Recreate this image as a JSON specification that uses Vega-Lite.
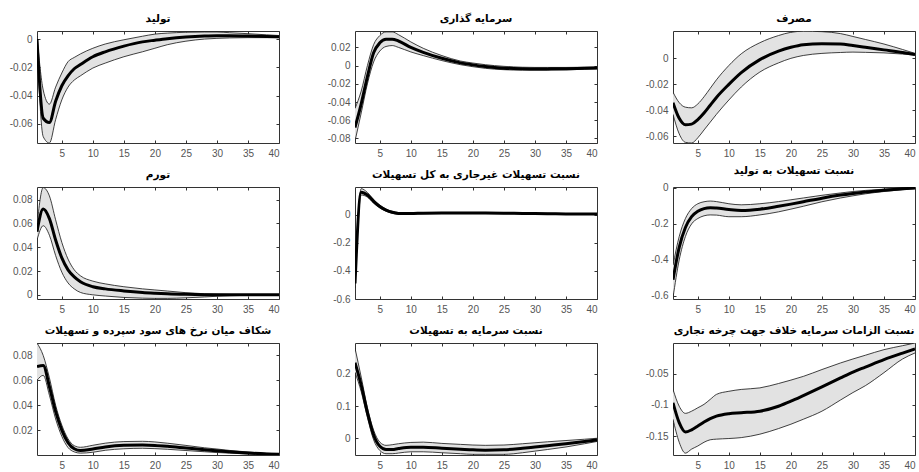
{
"$schema": "https://vega.github.io/schema/vega-lite/v6.json",
"background": "white",
"padding": {"left": 8, "top": 13, "right": 0, "bottom": 0},
"data": {"values": [
{"p":1,"x":1,"m":0.0,"lo":-0.003,"hi":0.002},
{"p":1,"x":2,"m":-0.056,"lo":-0.069,"hi":-0.036},
{"p":1,"x":3,"m":-0.059,"lo":-0.0735,"hi":-0.046},
{"p":1,"x":4,"m":-0.044,"lo":-0.057,"hi":-0.034},
{"p":1,"x":5,"m":-0.033,"lo":-0.043,"hi":-0.024},
{"p":1,"x":6,"m":-0.026,"lo":-0.034,"hi":-0.016},
{"p":1,"x":7,"m":-0.021,"lo":-0.029,"hi":-0.013},
{"p":1,"x":8,"m":-0.018,"lo":-0.026,"hi":-0.0105},
{"p":1,"x":10,"m":-0.0125,"lo":-0.0205,"hi":-0.0065},
{"p":1,"x":12,"m":-0.009,"lo":-0.017,"hi":-0.0035},
{"p":1,"x":15,"m":-0.005,"lo":-0.0125,"hi":-0.0005},
{"p":1,"x":18,"m":-0.002,"lo":-0.009,"hi":0.002},
{"p":1,"x":20,"m":-0.0008,"lo":-0.0065,"hi":0.0035},
{"p":1,"x":22,"m":0.0003,"lo":-0.004,"hi":0.0042},
{"p":1,"x":25,"m":0.0015,"lo":-0.0015,"hi":0.0048},
{"p":1,"x":28,"m":0.0022,"lo":0.0,"hi":0.005},
{"p":1,"x":30,"m":0.0024,"lo":0.0005,"hi":0.005},
{"p":1,"x":32,"m":0.0024,"lo":0.0008,"hi":0.0045},
{"p":1,"x":35,"m":0.0022,"lo":0.001,"hi":0.0038},
{"p":1,"x":38,"m":0.0018,"lo":0.001,"hi":0.003},
{"p":1,"x":40,"m":0.0016,"lo":0.001,"hi":0.0025},
{"p":2,"x":1,"m":-0.068,"lo":-0.083,"hi":-0.047},
{"p":2,"x":2,"m":-0.042,"lo":-0.052,"hi":-0.028},
{"p":2,"x":3,"m":-0.012,"lo":-0.02,"hi":0.0},
{"p":2,"x":4,"m":0.014,"lo":0.004,"hi":0.023},
{"p":2,"x":5,"m":0.025,"lo":0.016,"hi":0.033},
{"p":2,"x":6,"m":0.029,"lo":0.021,"hi":0.037},
{"p":2,"x":7,"m":0.029,"lo":0.022,"hi":0.037},
{"p":2,"x":8,"m":0.027,"lo":0.02,"hi":0.034},
{"p":2,"x":10,"m":0.02,"lo":0.015,"hi":0.026},
{"p":2,"x":12,"m":0.0145,"lo":0.011,"hi":0.019},
{"p":2,"x":15,"m":0.008,"lo":0.0055,"hi":0.011},
{"p":2,"x":18,"m":0.003,"lo":0.001,"hi":0.005},
{"p":2,"x":20,"m":0.0008,"lo":-0.0012,"hi":0.0028},
{"p":2,"x":22,"m":-0.001,"lo":-0.003,"hi":0.001},
{"p":2,"x":25,"m":-0.0028,"lo":-0.0045,"hi":-0.0008},
{"p":2,"x":28,"m":-0.0035,"lo":-0.005,"hi":-0.0018},
{"p":2,"x":30,"m":-0.0037,"lo":-0.005,"hi":-0.002},
{"p":2,"x":32,"m":-0.0036,"lo":-0.005,"hi":-0.002},
{"p":2,"x":35,"m":-0.0034,"lo":-0.0047,"hi":-0.002},
{"p":2,"x":38,"m":-0.003,"lo":-0.004,"hi":-0.0018},
{"p":2,"x":40,"m":-0.0025,"lo":-0.0035,"hi":-0.0015},
{"p":3,"x":1,"m":-0.034,"lo":-0.043,"hi":-0.026},
{"p":3,"x":2,"m":-0.046,"lo":-0.058,"hi":-0.034},
{"p":3,"x":3,"m":-0.051,"lo":-0.0645,"hi":-0.0375},
{"p":3,"x":4,"m":-0.0505,"lo":-0.065,"hi":-0.038},
{"p":3,"x":5,"m":-0.047,"lo":-0.061,"hi":-0.035},
{"p":3,"x":6,"m":-0.042,"lo":-0.055,"hi":-0.0295},
{"p":3,"x":7,"m":-0.036,"lo":-0.049,"hi":-0.023},
{"p":3,"x":8,"m":-0.03,"lo":-0.043,"hi":-0.0165},
{"p":3,"x":10,"m":-0.02,"lo":-0.032,"hi":-0.0055},
{"p":3,"x":12,"m":-0.011,"lo":-0.022,"hi":0.0035},
{"p":3,"x":15,"m":-0.001,"lo":-0.0105,"hi":0.012},
{"p":3,"x":18,"m":0.0055,"lo":-0.0035,"hi":0.0175},
{"p":3,"x":20,"m":0.0085,"lo":0.0,"hi":0.02},
{"p":3,"x":22,"m":0.0105,"lo":0.0022,"hi":0.0208},
{"p":3,"x":25,"m":0.0113,"lo":0.0038,"hi":0.0205},
{"p":3,"x":28,"m":0.011,"lo":0.0045,"hi":0.019},
{"p":3,"x":30,"m":0.0098,"lo":0.0048,"hi":0.0168},
{"p":3,"x":32,"m":0.0085,"lo":0.0046,"hi":0.0145},
{"p":3,"x":35,"m":0.0065,"lo":0.0042,"hi":0.011},
{"p":3,"x":38,"m":0.0045,"lo":0.0033,"hi":0.0068},
{"p":3,"x":40,"m":0.003,"lo":0.0025,"hi":0.0038},
{"p":4,"x":1,"m":0.053,"lo":0.046,"hi":0.058},
{"p":4,"x":2,"m":0.072,"lo":0.058,"hi":0.09},
{"p":4,"x":3,"m":0.064,"lo":0.05,"hi":0.083},
{"p":4,"x":4,"m":0.046,"lo":0.033,"hi":0.063},
{"p":4,"x":5,"m":0.031,"lo":0.019,"hi":0.044},
{"p":4,"x":6,"m":0.021,"lo":0.01,"hi":0.03},
{"p":4,"x":7,"m":0.015,"lo":0.005,"hi":0.021},
{"p":4,"x":8,"m":0.011,"lo":0.002,"hi":0.016},
{"p":4,"x":10,"m":0.0068,"lo":0.0,"hi":0.0115},
{"p":4,"x":12,"m":0.005,"lo":-0.001,"hi":0.0092},
{"p":4,"x":15,"m":0.0033,"lo":-0.0022,"hi":0.0068},
{"p":4,"x":18,"m":0.002,"lo":-0.0028,"hi":0.005},
{"p":4,"x":20,"m":0.0014,"lo":-0.003,"hi":0.0041},
{"p":4,"x":22,"m":0.0009,"lo":-0.003,"hi":0.0032},
{"p":4,"x":25,"m":0.0004,"lo":-0.0025,"hi":0.0018},
{"p":4,"x":28,"m":0.0001,"lo":-0.0018,"hi":0.0009},
{"p":4,"x":30,"m":0.0,"lo":-0.0012,"hi":0.0005},
{"p":4,"x":32,"m":0.0,"lo":-0.0008,"hi":0.0003},
{"p":4,"x":35,"m":0.0,"lo":-0.0004,"hi":0.0002},
{"p":4,"x":38,"m":0.0,"lo":-0.0002,"hi":0.0001},
{"p":4,"x":40,"m":0.0,"lo":-0.0001,"hi":0.0001},
{"p":5,"x":1,"m":-0.49,"lo":-0.52,"hi":-0.47},
{"p":5,"x":2,"m":0.16,"lo":0.14,"hi":0.185},
{"p":5,"x":3,"m":0.14,"lo":0.125,"hi":0.158},
{"p":5,"x":4,"m":0.095,"lo":0.082,"hi":0.108},
{"p":5,"x":5,"m":0.058,"lo":0.048,"hi":0.068},
{"p":5,"x":6,"m":0.033,"lo":0.025,"hi":0.04},
{"p":5,"x":7,"m":0.017,"lo":0.01,"hi":0.024},
{"p":5,"x":8,"m":0.009,"lo":0.003,"hi":0.015},
{"p":5,"x":10,"m":0.008,"lo":0.003,"hi":0.012},
{"p":5,"x":12,"m":0.011,"lo":0.007,"hi":0.015},
{"p":5,"x":15,"m":0.012,"lo":0.008,"hi":0.016},
{"p":5,"x":18,"m":0.012,"lo":0.008,"hi":0.016},
{"p":5,"x":20,"m":0.012,"lo":0.008,"hi":0.016},
{"p":5,"x":22,"m":0.012,"lo":0.008,"hi":0.016},
{"p":5,"x":25,"m":0.011,"lo":0.007,"hi":0.015},
{"p":5,"x":28,"m":0.009,"lo":0.006,"hi":0.012},
{"p":5,"x":30,"m":0.008,"lo":0.005,"hi":0.011},
{"p":5,"x":32,"m":0.007,"lo":0.004,"hi":0.01},
{"p":5,"x":35,"m":0.005,"lo":0.002,"hi":0.008},
{"p":5,"x":38,"m":0.004,"lo":0.002,"hi":0.007},
{"p":5,"x":40,"m":0.004,"lo":0.002,"hi":0.006},
{"p":6,"x":1,"m":-0.51,"lo":-0.61,"hi":-0.43},
{"p":6,"x":2,"m":-0.33,"lo":-0.4,"hi":-0.27},
{"p":6,"x":3,"m":-0.22,"lo":-0.27,"hi":-0.17},
{"p":6,"x":4,"m":-0.16,"lo":-0.2,"hi":-0.115},
{"p":6,"x":5,"m":-0.13,"lo":-0.17,"hi":-0.088},
{"p":6,"x":6,"m":-0.115,"lo":-0.155,"hi":-0.077},
{"p":6,"x":7,"m":-0.11,"lo":-0.15,"hi":-0.073},
{"p":6,"x":8,"m":-0.112,"lo":-0.151,"hi":-0.076},
{"p":6,"x":10,"m":-0.12,"lo":-0.16,"hi":-0.088},
{"p":6,"x":12,"m":-0.125,"lo":-0.16,"hi":-0.094},
{"p":6,"x":15,"m":-0.118,"lo":-0.15,"hi":-0.088},
{"p":6,"x":18,"m":-0.102,"lo":-0.133,"hi":-0.076},
{"p":6,"x":20,"m":-0.09,"lo":-0.118,"hi":-0.066},
{"p":6,"x":22,"m":-0.077,"lo":-0.102,"hi":-0.056},
{"p":6,"x":25,"m":-0.057,"lo":-0.077,"hi":-0.041},
{"p":6,"x":28,"m":-0.04,"lo":-0.056,"hi":-0.028},
{"p":6,"x":30,"m":-0.031,"lo":-0.044,"hi":-0.02},
{"p":6,"x":32,"m":-0.023,"lo":-0.033,"hi":-0.014},
{"p":6,"x":35,"m":-0.013,"lo":-0.02,"hi":-0.007},
{"p":6,"x":38,"m":-0.005,"lo":-0.01,"hi":-0.001},
{"p":6,"x":40,"m":-0.001,"lo":-0.004,"hi":0.003},
{"p":7,"x":1,"m":0.071,"lo":0.06,"hi":0.09},
{"p":7,"x":2,"m":0.072,"lo":0.064,"hi":0.08},
{"p":7,"x":3,"m":0.055,"lo":0.048,"hi":0.062},
{"p":7,"x":4,"m":0.035,"lo":0.029,"hi":0.04},
{"p":7,"x":5,"m":0.02,"lo":0.015,"hi":0.024},
{"p":7,"x":6,"m":0.01,"lo":0.006,"hi":0.013},
{"p":7,"x":7,"m":0.005,"lo":0.0025,"hi":0.0075},
{"p":7,"x":8,"m":0.0036,"lo":0.0015,"hi":0.0062},
{"p":7,"x":10,"m":0.0048,"lo":0.0022,"hi":0.0078},
{"p":7,"x":12,"m":0.0065,"lo":0.0038,"hi":0.0095},
{"p":7,"x":15,"m":0.0078,"lo":0.005,"hi":0.0108},
{"p":7,"x":18,"m":0.008,"lo":0.0054,"hi":0.011},
{"p":7,"x":20,"m":0.0077,"lo":0.0051,"hi":0.0105},
{"p":7,"x":22,"m":0.007,"lo":0.0046,"hi":0.0095},
{"p":7,"x":25,"m":0.0056,"lo":0.0036,"hi":0.0077},
{"p":7,"x":28,"m":0.0042,"lo":0.0026,"hi":0.0058},
{"p":7,"x":30,"m":0.0034,"lo":0.002,"hi":0.0048},
{"p":7,"x":32,"m":0.0026,"lo":0.0015,"hi":0.0037},
{"p":7,"x":35,"m":0.0016,"lo":0.0008,"hi":0.0024},
{"p":7,"x":38,"m":0.0009,"lo":0.0004,"hi":0.0014},
{"p":7,"x":40,"m":0.0006,"lo":0.0002,"hi":0.0009},
{"p":8,"x":1,"m":0.235,"lo":0.205,"hi":0.28},
{"p":8,"x":2,"m":0.165,"lo":0.145,"hi":0.19},
{"p":8,"x":3,"m":0.08,"lo":0.065,"hi":0.095},
{"p":8,"x":4,"m":0.01,"lo":-0.005,"hi":0.025},
{"p":8,"x":5,"m":-0.025,"lo":-0.038,"hi":-0.012},
{"p":8,"x":6,"m":-0.035,"lo":-0.048,"hi":-0.022},
{"p":8,"x":7,"m":-0.035,"lo":-0.048,"hi":-0.02},
{"p":8,"x":8,"m":-0.032,"lo":-0.046,"hi":-0.017},
{"p":8,"x":10,"m":-0.028,"lo":-0.042,"hi":-0.013},
{"p":8,"x":12,"m":-0.028,"lo":-0.042,"hi":-0.012},
{"p":8,"x":15,"m":-0.031,"lo":-0.045,"hi":-0.016},
{"p":8,"x":18,"m":-0.034,"lo":-0.048,"hi":-0.019},
{"p":8,"x":20,"m":-0.036,"lo":-0.05,"hi":-0.021},
{"p":8,"x":22,"m":-0.037,"lo":-0.05,"hi":-0.022},
{"p":8,"x":25,"m":-0.036,"lo":-0.05,"hi":-0.021},
{"p":8,"x":28,"m":-0.031,"lo":-0.045,"hi":-0.017},
{"p":8,"x":30,"m":-0.027,"lo":-0.04,"hi":-0.014},
{"p":8,"x":32,"m":-0.023,"lo":-0.035,"hi":-0.011},
{"p":8,"x":35,"m":-0.017,"lo":-0.027,"hi":-0.007},
{"p":8,"x":38,"m":-0.01,"lo":-0.017,"hi":-0.003},
{"p":8,"x":40,"m":-0.005,"lo":-0.01,"hi":0.0},
{"p":9,"x":1,"m":-0.0965,"lo":-0.123,"hi":-0.075},
{"p":9,"x":2,"m":-0.1285,"lo":-0.16,"hi":-0.102},
{"p":9,"x":3,"m":-0.1435,"lo":-0.1775,"hi":-0.1135},
{"p":9,"x":4,"m":-0.14,"lo":-0.171,"hi":-0.11},
{"p":9,"x":5,"m":-0.134,"lo":-0.166,"hi":-0.1045},
{"p":9,"x":6,"m":-0.1275,"lo":-0.16,"hi":-0.099},
{"p":9,"x":7,"m":-0.122,"lo":-0.156,"hi":-0.091},
{"p":9,"x":8,"m":-0.118,"lo":-0.155,"hi":-0.083},
{"p":9,"x":10,"m":-0.114,"lo":-0.154,"hi":-0.078},
{"p":9,"x":12,"m":-0.1125,"lo":-0.1525,"hi":-0.075},
{"p":9,"x":15,"m":-0.11,"lo":-0.147,"hi":-0.0725},
{"p":9,"x":18,"m":-0.102,"lo":-0.138,"hi":-0.0655},
{"p":9,"x":20,"m":-0.094,"lo":-0.131,"hi":-0.06},
{"p":9,"x":22,"m":-0.085,"lo":-0.123,"hi":-0.054},
{"p":9,"x":25,"m":-0.071,"lo":-0.11,"hi":-0.043},
{"p":9,"x":28,"m":-0.0564,"lo":-0.092,"hi":-0.0324},
{"p":9,"x":30,"m":-0.047,"lo":-0.08,"hi":-0.026},
{"p":9,"x":32,"m":-0.039,"lo":-0.069,"hi":-0.02},
{"p":9,"x":35,"m":-0.027,"lo":-0.048,"hi":-0.011},
{"p":9,"x":38,"m":-0.0166,"lo":-0.026,"hi":-0.0046},
{"p":9,"x":40,"m":-0.01,"lo":-0.0163,"hi":-0.0003}
]},
"columns": 3,
"bounds": "flush",
"spacing": {"row": 44, "column": 76},
"concat": [
{"title": "تولید", "width": 242, "height": 112,
 "transform": [{"filter": "datum.p == 1"}],
 "layer": [
  {"mark": {"type": "area", "color": "#e2e2e2", "interpolate": "monotone", "clip": true},
   "encoding": {"x": {"field": "x", "type": "quantitative", "scale": {"domain": [1, 40], "nice": false}, "axis": {"values": [5,10,15,20,25,30,35,40], "title": null}},
    "y": {"field": "lo", "type": "quantitative", "scale": {"domain": [-0.0735, 0.0057], "nice": false, "zero": false}, "axis": {"values": [-0.06,-0.04,-0.02,0], "title": null}},
    "y2": {"field": "hi"}}},
  {"mark": {"type": "line", "color": "#111", "strokeWidth": 0.8, "interpolate": "monotone", "clip": true},
   "encoding": {"x": {"field": "x", "type": "quantitative", "axis": {"orient": "top", "labels": false, "values": [5,10,15,20,25,30,35,40], "title": null}},
    "y": {"field": "hi", "type": "quantitative", "axis": {"orient": "right", "labels": false, "values": [-0.06,-0.04,-0.02,0], "title": null}}}},
  {"mark": {"type": "line", "color": "#111", "strokeWidth": 0.8, "interpolate": "monotone", "clip": true},
   "encoding": {"x": {"field": "x", "type": "quantitative", "axis": null}, "y": {"field": "lo", "type": "quantitative", "axis": null}}},
  {"mark": {"type": "line", "color": "#000", "strokeWidth": 3, "interpolate": "monotone", "clip": true},
   "encoding": {"x": {"field": "x", "type": "quantitative", "axis": null}, "y": {"field": "m", "type": "quantitative", "axis": null}}}
 ],
 "resolve": {"axis": {"x": "independent", "y": "independent"}}},
{"title": "سرمایه گذاری", "width": 242, "height": 112,
 "transform": [{"filter": "datum.p == 2"}],
 "layer": [
  {"mark": {"type": "area", "color": "#e2e2e2", "interpolate": "monotone", "clip": true},
   "encoding": {"x": {"field": "x", "type": "quantitative", "scale": {"domain": [1, 40], "nice": false}, "axis": {"values": [5,10,15,20,25,30,35,40], "title": null}},
    "y": {"field": "lo", "type": "quantitative", "scale": {"domain": [-0.085, 0.038], "nice": false, "zero": false}, "axis": {"values": [-0.08,-0.06,-0.04,-0.02,0,0.02], "title": null}},
    "y2": {"field": "hi"}}},
  {"mark": {"type": "line", "color": "#111", "strokeWidth": 0.8, "interpolate": "monotone", "clip": true},
   "encoding": {"x": {"field": "x", "type": "quantitative", "axis": {"orient": "top", "labels": false, "values": [5,10,15,20,25,30,35,40], "title": null}},
    "y": {"field": "hi", "type": "quantitative", "axis": {"orient": "right", "labels": false, "values": [-0.08,-0.06,-0.04,-0.02,0,0.02], "title": null}}}},
  {"mark": {"type": "line", "color": "#111", "strokeWidth": 0.8, "interpolate": "monotone", "clip": true},
   "encoding": {"x": {"field": "x", "type": "quantitative", "axis": null}, "y": {"field": "lo", "type": "quantitative", "axis": null}}},
  {"mark": {"type": "line", "color": "#000", "strokeWidth": 3, "interpolate": "monotone", "clip": true},
   "encoding": {"x": {"field": "x", "type": "quantitative", "axis": null}, "y": {"field": "m", "type": "quantitative", "axis": null}}}
 ],
 "resolve": {"axis": {"x": "independent", "y": "independent"}}},
{"title": "مصرف", "width": 242, "height": 112,
 "transform": [{"filter": "datum.p == 3"}],
 "layer": [
  {"mark": {"type": "area", "color": "#e2e2e2", "interpolate": "monotone", "clip": true},
   "encoding": {"x": {"field": "x", "type": "quantitative", "scale": {"domain": [1, 40], "nice": false}, "axis": {"values": [5,10,15,20,25,30,35,40], "title": null}},
    "y": {"field": "lo", "type": "quantitative", "scale": {"domain": [-0.065, 0.021], "nice": false, "zero": false}, "axis": {"values": [-0.06,-0.04,-0.02,0], "title": null}},
    "y2": {"field": "hi"}}},
  {"mark": {"type": "line", "color": "#111", "strokeWidth": 0.8, "interpolate": "monotone", "clip": true},
   "encoding": {"x": {"field": "x", "type": "quantitative", "axis": {"orient": "top", "labels": false, "values": [5,10,15,20,25,30,35,40], "title": null}},
    "y": {"field": "hi", "type": "quantitative", "axis": {"orient": "right", "labels": false, "values": [-0.06,-0.04,-0.02,0], "title": null}}}},
  {"mark": {"type": "line", "color": "#111", "strokeWidth": 0.8, "interpolate": "monotone", "clip": true},
   "encoding": {"x": {"field": "x", "type": "quantitative", "axis": null}, "y": {"field": "lo", "type": "quantitative", "axis": null}}},
  {"mark": {"type": "line", "color": "#000", "strokeWidth": 3, "interpolate": "monotone", "clip": true},
   "encoding": {"x": {"field": "x", "type": "quantitative", "axis": null}, "y": {"field": "m", "type": "quantitative", "axis": null}}}
 ],
 "resolve": {"axis": {"x": "independent", "y": "independent"}}},
{"title": "تورم", "width": 242, "height": 112,
 "transform": [{"filter": "datum.p == 4"}],
 "layer": [
  {"mark": {"type": "area", "color": "#e2e2e2", "interpolate": "monotone", "clip": true},
   "encoding": {"x": {"field": "x", "type": "quantitative", "scale": {"domain": [1, 40], "nice": false}, "axis": {"values": [5,10,15,20,25,30,35,40], "title": null}},
    "y": {"field": "lo", "type": "quantitative", "scale": {"domain": [-0.0035, 0.0905], "nice": false, "zero": false}, "axis": {"values": [0,0.02,0.04,0.06,0.08], "title": null}},
    "y2": {"field": "hi"}}},
  {"mark": {"type": "line", "color": "#111", "strokeWidth": 0.8, "interpolate": "monotone", "clip": true},
   "encoding": {"x": {"field": "x", "type": "quantitative", "axis": {"orient": "top", "labels": false, "values": [5,10,15,20,25,30,35,40], "title": null}},
    "y": {"field": "hi", "type": "quantitative", "axis": {"orient": "right", "labels": false, "values": [0,0.02,0.04,0.06,0.08], "title": null}}}},
  {"mark": {"type": "line", "color": "#111", "strokeWidth": 0.8, "interpolate": "monotone", "clip": true},
   "encoding": {"x": {"field": "x", "type": "quantitative", "axis": null}, "y": {"field": "lo", "type": "quantitative", "axis": null}}},
  {"mark": {"type": "line", "color": "#000", "strokeWidth": 3, "interpolate": "monotone", "clip": true},
   "encoding": {"x": {"field": "x", "type": "quantitative", "axis": null}, "y": {"field": "m", "type": "quantitative", "axis": null}}}
 ],
 "resolve": {"axis": {"x": "independent", "y": "independent"}}},
{"title": "نسبت تسهیلات غیرجاری به کل تسهیلات", "width": 242, "height": 112,
 "transform": [{"filter": "datum.p == 5"}],
 "layer": [
  {"mark": {"type": "area", "color": "#e2e2e2", "interpolate": "monotone", "clip": true},
   "encoding": {"x": {"field": "x", "type": "quantitative", "scale": {"domain": [1, 40], "nice": false}, "axis": {"values": [5,10,15,20,25,30,35,40], "title": null}},
    "y": {"field": "lo", "type": "quantitative", "scale": {"domain": [-0.6, 0.197], "nice": false, "zero": false}, "axis": {"values": [-0.6,-0.4,-0.2,0], "title": null}},
    "y2": {"field": "hi"}}},
  {"mark": {"type": "line", "color": "#111", "strokeWidth": 0.8, "interpolate": "monotone", "clip": true},
   "encoding": {"x": {"field": "x", "type": "quantitative", "axis": {"orient": "top", "labels": false, "values": [5,10,15,20,25,30,35,40], "title": null}},
    "y": {"field": "hi", "type": "quantitative", "axis": {"orient": "right", "labels": false, "values": [-0.6,-0.4,-0.2,0], "title": null}}}},
  {"mark": {"type": "line", "color": "#111", "strokeWidth": 0.8, "interpolate": "monotone", "clip": true},
   "encoding": {"x": {"field": "x", "type": "quantitative", "axis": null}, "y": {"field": "lo", "type": "quantitative", "axis": null}}},
  {"mark": {"type": "line", "color": "#000", "strokeWidth": 3, "interpolate": "monotone", "clip": true},
   "encoding": {"x": {"field": "x", "type": "quantitative", "axis": null}, "y": {"field": "m", "type": "quantitative", "axis": null}}}
 ],
 "resolve": {"axis": {"x": "independent", "y": "independent"}}},
{"title": "نسبت تسهیلات به تولید", "width": 242, "height": 112,
 "transform": [{"filter": "datum.p == 6"}],
 "layer": [
  {"mark": {"type": "area", "color": "#e2e2e2", "interpolate": "monotone", "clip": true},
   "encoding": {"x": {"field": "x", "type": "quantitative", "scale": {"domain": [1, 40], "nice": false}, "axis": {"values": [5,10,15,20,25,30,35,40], "title": null}},
    "y": {"field": "lo", "type": "quantitative", "scale": {"domain": [-0.617, 0.005], "nice": false, "zero": false}, "axis": {"values": [-0.6,-0.4,-0.2,0], "title": null}},
    "y2": {"field": "hi"}}},
  {"mark": {"type": "line", "color": "#111", "strokeWidth": 0.8, "interpolate": "monotone", "clip": true},
   "encoding": {"x": {"field": "x", "type": "quantitative", "axis": {"orient": "top", "labels": false, "values": [5,10,15,20,25,30,35,40], "title": null}},
    "y": {"field": "hi", "type": "quantitative", "axis": {"orient": "right", "labels": false, "values": [-0.6,-0.4,-0.2,0], "title": null}}}},
  {"mark": {"type": "line", "color": "#111", "strokeWidth": 0.8, "interpolate": "monotone", "clip": true},
   "encoding": {"x": {"field": "x", "type": "quantitative", "axis": null}, "y": {"field": "lo", "type": "quantitative", "axis": null}}},
  {"mark": {"type": "line", "color": "#000", "strokeWidth": 3, "interpolate": "monotone", "clip": true},
   "encoding": {"x": {"field": "x", "type": "quantitative", "axis": null}, "y": {"field": "m", "type": "quantitative", "axis": null}}}
 ],
 "resolve": {"axis": {"x": "independent", "y": "independent"}}},
{"title": "شکاف میان نرخ های سود سپرده و تسهیلات", "width": 242, "height": 112,
 "transform": [{"filter": "datum.p == 7"}],
 "layer": [
  {"mark": {"type": "area", "color": "#e2e2e2", "interpolate": "monotone", "clip": true},
   "encoding": {"x": {"field": "x", "type": "quantitative", "scale": {"domain": [1, 40], "nice": false}, "axis": {"values": [5,10,15,20,25,30,35,40], "title": null}},
    "y": {"field": "lo", "type": "quantitative", "scale": {"domain": [0, 0.09], "nice": false, "zero": false}, "axis": {"values": [0.02,0.04,0.06,0.08], "title": null}},
    "y2": {"field": "hi"}}},
  {"mark": {"type": "line", "color": "#111", "strokeWidth": 0.8, "interpolate": "monotone", "clip": true},
   "encoding": {"x": {"field": "x", "type": "quantitative", "axis": {"orient": "top", "labels": false, "values": [5,10,15,20,25,30,35,40], "title": null}},
    "y": {"field": "hi", "type": "quantitative", "axis": {"orient": "right", "labels": false, "values": [0.02,0.04,0.06,0.08], "title": null}}}},
  {"mark": {"type": "line", "color": "#111", "strokeWidth": 0.8, "interpolate": "monotone", "clip": true},
   "encoding": {"x": {"field": "x", "type": "quantitative", "axis": null}, "y": {"field": "lo", "type": "quantitative", "axis": null}}},
  {"mark": {"type": "line", "color": "#000", "strokeWidth": 3, "interpolate": "monotone", "clip": true},
   "encoding": {"x": {"field": "x", "type": "quantitative", "axis": null}, "y": {"field": "m", "type": "quantitative", "axis": null}}}
 ],
 "resolve": {"axis": {"x": "independent", "y": "independent"}}},
{"title": "نسبت سرمایه به تسهیلات", "width": 242, "height": 112,
 "transform": [{"filter": "datum.p == 8"}],
 "layer": [
  {"mark": {"type": "area", "color": "#e2e2e2", "interpolate": "monotone", "clip": true},
   "encoding": {"x": {"field": "x", "type": "quantitative", "scale": {"domain": [1, 40], "nice": false}, "axis": {"values": [5,10,15,20,25,30,35,40], "title": null}},
    "y": {"field": "lo", "type": "quantitative", "scale": {"domain": [-0.052, 0.296], "nice": false, "zero": false}, "axis": {"values": [0,0.1,0.2], "title": null}},
    "y2": {"field": "hi"}}},
  {"mark": {"type": "line", "color": "#111", "strokeWidth": 0.8, "interpolate": "monotone", "clip": true},
   "encoding": {"x": {"field": "x", "type": "quantitative", "axis": {"orient": "top", "labels": false, "values": [5,10,15,20,25,30,35,40], "title": null}},
    "y": {"field": "hi", "type": "quantitative", "axis": {"orient": "right", "labels": false, "values": [0,0.1,0.2], "title": null}}}},
  {"mark": {"type": "line", "color": "#111", "strokeWidth": 0.8, "interpolate": "monotone", "clip": true},
   "encoding": {"x": {"field": "x", "type": "quantitative", "axis": null}, "y": {"field": "lo", "type": "quantitative", "axis": null}}},
  {"mark": {"type": "line", "color": "#000", "strokeWidth": 3, "interpolate": "monotone", "clip": true},
   "encoding": {"x": {"field": "x", "type": "quantitative", "axis": null}, "y": {"field": "m", "type": "quantitative", "axis": null}}}
 ],
 "resolve": {"axis": {"x": "independent", "y": "independent"}}},
{"title": "نسبت الزامات سرمایه خلاف جهت چرخه تجاری", "width": 242, "height": 112,
 "transform": [{"filter": "datum.p == 9"}],
 "layer": [
  {"mark": {"type": "area", "color": "#e2e2e2", "interpolate": "monotone", "clip": true},
   "encoding": {"x": {"field": "x", "type": "quantitative", "scale": {"domain": [1, 40], "nice": false}, "axis": {"values": [5,10,15,20,25,30,35,40], "title": null}},
    "y": {"field": "lo", "type": "quantitative", "scale": {"domain": [-0.1805, -0.0003], "nice": false, "zero": false}, "axis": {"values": [-0.15,-0.1,-0.05], "title": null}},
    "y2": {"field": "hi"}}},
  {"mark": {"type": "line", "color": "#111", "strokeWidth": 0.8, "interpolate": "monotone", "clip": true},
   "encoding": {"x": {"field": "x", "type": "quantitative", "axis": {"orient": "top", "labels": false, "values": [5,10,15,20,25,30,35,40], "title": null}},
    "y": {"field": "hi", "type": "quantitative", "axis": {"orient": "right", "labels": false, "values": [-0.15,-0.1,-0.05], "title": null}}}},
  {"mark": {"type": "line", "color": "#111", "strokeWidth": 0.8, "interpolate": "monotone", "clip": true},
   "encoding": {"x": {"field": "x", "type": "quantitative", "axis": null}, "y": {"field": "lo", "type": "quantitative", "axis": null}}},
  {"mark": {"type": "line", "color": "#000", "strokeWidth": 3, "interpolate": "monotone", "clip": true},
   "encoding": {"x": {"field": "x", "type": "quantitative", "axis": null}, "y": {"field": "m", "type": "quantitative", "axis": null}}}
 ],
 "resolve": {"axis": {"x": "independent", "y": "independent"}}}
],
"config": {
 "view": {"stroke": "#333", "strokeWidth": 1},
 "axis": {"domain": false, "grid": false, "tickColor": "#333", "tickSize": -3, "labelPadding": 8, "labelColor": "#555", "labelFont": "Liberation Sans", "labelFontSize": 10, "format": ".2~f", "labelExpr": "replace(datum.label, '\u2212', '-')"},
 "title": {"font": "DejaVu Sans", "fontSize": 10.5, "fontWeight": "bold", "color": "#000", "anchor": "middle", "offset": 6}
}
}
